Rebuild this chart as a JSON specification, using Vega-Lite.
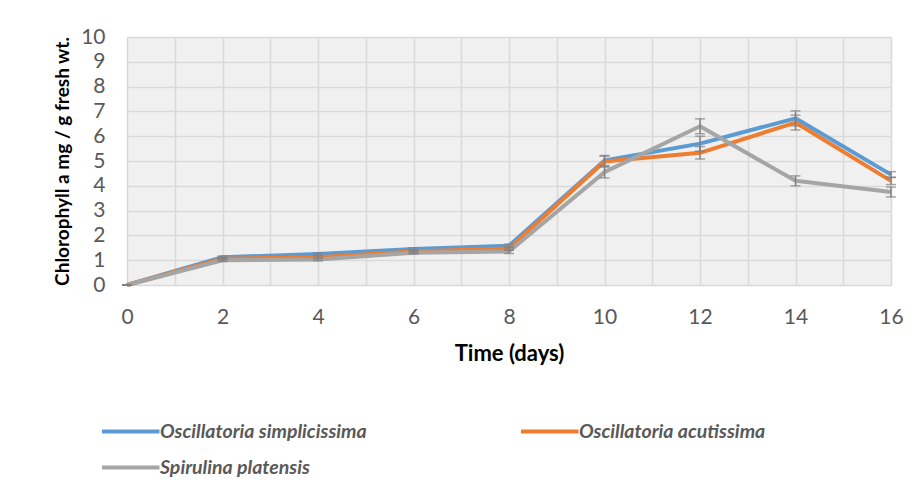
{
  "$schema": "https://vega.github.io/schema/vega-lite/v6.json",
  "width": 764,
  "height": 248,
  "autosize": "none",
  "padding": {"left": 127, "top": 37, "right": 29, "bottom": 211},
  "background": "white",
  "config": {"view": {"stroke": null, "fill": "#f0f0f0"}, "font": "Lato"},
  "data": {"values": [
    {"day": 0, "species": "Oscillatoria simplicissima", "value": 0, "err": 0},
    {"day": 2, "species": "Oscillatoria simplicissima", "value": 1.12, "err": 0.05},
    {"day": 4, "species": "Oscillatoria simplicissima", "value": 1.25, "err": 0.05},
    {"day": 6, "species": "Oscillatoria simplicissima", "value": 1.45, "err": 0.05},
    {"day": 8, "species": "Oscillatoria simplicissima", "value": 1.58, "err": 0.07},
    {"day": 10, "species": "Oscillatoria simplicissima", "value": 5.02, "err": 0.2},
    {"day": 12, "species": "Oscillatoria simplicissima", "value": 5.7, "err": 0.3},
    {"day": 14, "species": "Oscillatoria simplicissima", "value": 6.72, "err": 0.3},
    {"day": 16, "species": "Oscillatoria simplicissima", "value": 4.45, "err": 0.12},
    {"day": 0, "species": "Oscillatoria acutissima", "value": 0, "err": 0},
    {"day": 2, "species": "Oscillatoria acutissima", "value": 1.06, "err": 0.05},
    {"day": 4, "species": "Oscillatoria acutissima", "value": 1.12, "err": 0.05},
    {"day": 6, "species": "Oscillatoria acutissima", "value": 1.35, "err": 0.05},
    {"day": 8, "species": "Oscillatoria acutissima", "value": 1.47, "err": 0.07},
    {"day": 10, "species": "Oscillatoria acutissima", "value": 4.98, "err": 0.22},
    {"day": 12, "species": "Oscillatoria acutissima", "value": 5.33, "err": 0.25},
    {"day": 14, "species": "Oscillatoria acutissima", "value": 6.55, "err": 0.3},
    {"day": 16, "species": "Oscillatoria acutissima", "value": 4.2, "err": 0.15},
    {"day": 0, "species": "Spirulina platensis", "value": 0, "err": 0},
    {"day": 2, "species": "Spirulina platensis", "value": 1.0, "err": 0.05},
    {"day": 4, "species": "Spirulina platensis", "value": 1.03, "err": 0.05},
    {"day": 6, "species": "Spirulina platensis", "value": 1.3, "err": 0.05},
    {"day": 8, "species": "Spirulina platensis", "value": 1.35, "err": 0.08},
    {"day": 10, "species": "Spirulina platensis", "value": 4.55, "err": 0.23},
    {"day": 12, "species": "Spirulina platensis", "value": 6.4, "err": 0.3},
    {"day": 14, "species": "Spirulina platensis", "value": 4.2, "err": 0.2},
    {"day": 16, "species": "Spirulina platensis", "value": 3.75, "err": 0.2}
  ]},
  "encoding": {
    "x": {
      "field": "day", "type": "quantitative",
      "scale": {"domain": [0, 16], "nice": false, "zero": false},
      "axis": {
        "values": [0,1,2,3,4,5,6,7,8,9,10,11,12,13,14,15,16],
        "labelExpr": "datum.value % 2 === 0 ? datum.label : ''",
        "title": "Time (days)",
        "grid": true, "gridColor": "#d9d9d9", "gridWidth": 1.5,
        "domain": false, "ticks": false,
        "labelFontSize": 21, "labelFontWeight": "normal", "labelColor": "#595959", "labelPadding": 21,
        "labelOverlap": false, "labelFlush": false,
        "titleFontSize": 22, "titleFontWeight": "bold", "titleColor": "#000000", "titlePadding": 16
      }
    },
    "y": {
      "field": "value", "type": "quantitative",
      "scale": {"domain": [0, 10], "nice": false},
      "axis": {
        "values": [0,1,2,3,4,5,6,7,8,9,10],
        "title": "Chlorophyll a mg / g fresh wt.",
        "grid": true, "gridColor": "#d9d9d9", "gridWidth": 1.5,
        "domain": false, "ticks": false,
        "labelFontSize": 21, "labelFontWeight": "normal", "labelColor": "#595959", "labelPadding": 22,
        "titleFontSize": 19, "titleFontWeight": "bold", "titleColor": "#000000", "titlePadding": 8
      }
    }
  },
  "layer": [
    {
      "mark": {"type": "line", "strokeWidth": 4, "strokeJoin": "round", "strokeCap": "butt"},
      "encoding": {
        "color": {
          "field": "species", "type": "nominal",
          "scale": {
            "domain": ["Oscillatoria simplicissima", "Oscillatoria acutissima", "Spirulina platensis"],
            "range": ["#5B9BD5", "#ED7D31", "#A5A5A5"]
          },
          "legend": {
            "title": null, "orient": "none", "legendX": -27, "legendY": 381,
            "direction": "horizontal", "columns": 2, "columnPadding": 146, "rowPadding": 13,
            "symbolType": "M-1,0H4", "symbolSize": 529, "symbolStrokeWidth": 4,
            "labelFontSize": 19.5, "labelFontStyle": "italic", "labelFontWeight": "bold",
            "labelColor": "#595959", "labelOffset": 33, "labelLimit": 400
          }
        }
      }
    },
    {
      "mark": {"type": "errorbar", "ticks": true, "size": 10, "thickness": 1.5, "color": "#808080"},
      "encoding": {
        "yError": {"field": "err"}
      }
    }
  ]
}
